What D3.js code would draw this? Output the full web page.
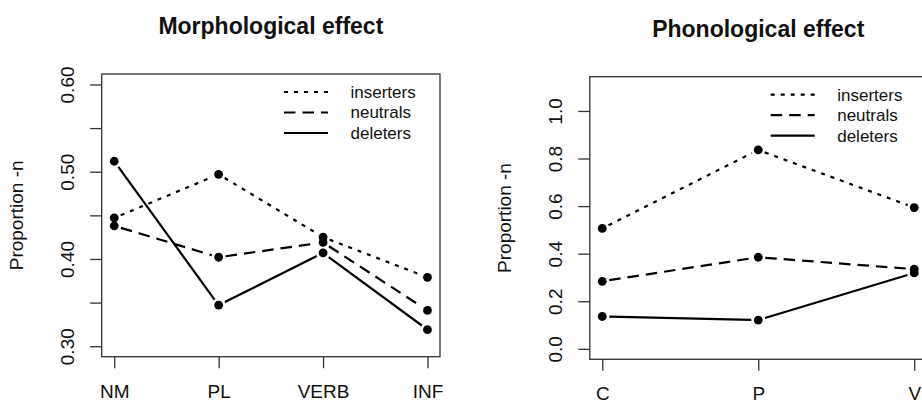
<!DOCTYPE html>
<html>
<head>
<meta charset="utf-8">
<script src="https://cdn.jsdelivr.net/npm/d3@7"></script>
<style>
body { margin: 0; background: #fff; }
svg { display: block; font-family: "Liberation Sans", Arial, Helvetica, sans-serif; }
</style>
</head>
<body>
<div id="chart"></div>
<script>
// values
var morph_categories = ["NM", "PL", "VERB", "INF"];
var morph_inserters = [0.447, 0.497, 0.425, 0.379];
var morph_neutrals = [0.438, 0.402, 0.419, 0.341];
var morph_deleters = [0.512, 0.347, 0.407, 0.319];
var morph_yticks = [0.30, 0.35, 0.40, 0.45, 0.50, 0.55, 0.60];
var morph_ylabels = ["0.30", "", "0.40", "", "0.50", "", "0.60"];

var phon_categories = ["C", "P", "V"];
var phon_inserters = [0.506, 0.836, 0.594];
var phon_neutrals = [0.284, 0.385, 0.335];
var phon_deleters = [0.136, 0.121, 0.319];
var phon_yticks = [0.0, 0.2, 0.4, 0.6, 0.8, 1.0];
var phon_ylabels = ["0.0", "0.2", "0.4", "0.6", "0.8", "1.0"];

var group_names = ["inserters", "neutrals", "deleters"];
var group_dash = ["4,6", "11.5,7", null];

var width = 922, height = 403;

var svg = d3.select("#chart")
    .append("svg")
    .attr("width", width)
    .attr("height", height);

function draw_effect_panel(opt) {
    var n = opt.categories.length;
    // R style 4% padding around the data range
    var xpad = (n - 1) * 0.04;
    var ypad = (opt.ymax - opt.ymin) * 0.04;

    var xScale = d3.scaleLinear()
        .domain([1 - xpad, n + xpad])
        .range([opt.left, opt.right]);

    var yScale = d3.scaleLinear()
        .domain([opt.ymin - ypad, opt.ymax + ypad])
        .range([opt.bottom, opt.top]);

    var g = svg.append("g");

    g.append("rect")
        .attr("x", opt.left)
        .attr("y", opt.top)
        .attr("width", opt.right - opt.left)
        .attr("height", opt.bottom - opt.top)
        .attr("fill", "none")
        .attr("stroke", "#333")
        .attr("stroke-width", 1.3);

    var xAxis = d3.axisBottom(xScale)
        .tickValues(d3.range(1, n + 1))
        .tickFormat(function(d) { return opt.categories[d - 1]; })
        .tickSize(11.5)
        .tickPadding(0);

    var yAxis = d3.axisLeft(yScale)
        .tickValues(opt.yticks)
        .tickFormat(function(d, i) { return opt.ylabels[i]; })
        .tickSize(11.5);

    var xg = g.append("g")
        .attr("transform", "translate(0," + opt.bottom + ")")
        .call(xAxis);
    xg.select(".domain").remove();
    xg.selectAll(".tick line").attr("stroke", "#333").attr("stroke-width", 1.3);
    xg.selectAll(".tick text")
        .attr("y", 41.2)
        .attr("dy", 0)
        .attr("fill", "#111")
        .style("font-size", "19px");

    var yg = g.append("g")
        .attr("transform", "translate(" + opt.left + ",0)")
        .call(yAxis);
    yg.select(".domain").remove();
    yg.selectAll(".tick line").attr("stroke", "#333").attr("stroke-width", 1.3);
    yg.selectAll(".tick text")
        .attr("x", 0)
        .attr("dy", 0)
        .attr("text-anchor", "middle")
        .attr("transform", "translate(-28.2,0) rotate(-90)")
        .attr("fill", "#111")
        .style("font-size", "19px");

    // axis title
    g.append("text")
        .attr("text-anchor", "middle")
        .attr("transform", "translate(" + (opt.left - 78.5) + "," + ((opt.top + opt.bottom) / 2) + ") rotate(-90)")
        .attr("fill", "#111")
        .style("font-size", "19px")
        .text("Proportion -n");

    g.append("text")
        .attr("x", (opt.left + opt.right) / 2)
        .attr("y", opt.top - 40)
        .attr("text-anchor", "middle")
        .attr("fill", "#111")
        .style("font-size", "23px")
        .style("font-weight", "bold")
        .text(opt.title);

    // lines with gaps around the points (type = "b")
    var gap = 7;
    opt.series.forEach(function(values, s) {
        var pts = values.map(function(v, i) {
            return [xScale(i + 1), yScale(v)];
        });
        for (var i = 0; i < pts.length - 1; i++) {
            var dx = pts[i + 1][0] - pts[i][0];
            var dy = pts[i + 1][1] - pts[i][1];
            var len = Math.sqrt(dx * dx + dy * dy);
            if (len <= 2 * gap) continue;
            var ux = dx / len, uy = dy / len;
            g.append("line")
                .attr("x1", pts[i][0] + ux * gap)
                .attr("y1", pts[i][1] + uy * gap)
                .attr("x2", pts[i + 1][0] - ux * gap)
                .attr("y2", pts[i + 1][1] - uy * gap)
                .attr("stroke", "#000")
                .attr("stroke-width", 2.2)
                .attr("stroke-dasharray", group_dash[s]);
        }
        g.selectAll(null)
            .data(values)
            .enter()
            .append("circle")
            .attr("cx", function(d, i) { return xScale(i + 1); })
            .attr("cy", function(d) { return yScale(d); })
            .attr("r", 4.4)
            .attr("fill", "#000");
    });

    // legend in the top right corner
    var legend = g.append("g")
        .attr("transform", "translate(" + opt.right + "," + opt.top + ")");
    group_names.forEach(function(name, i) {
        var ly = 18 + i * 20.5;
        legend.append("line")
            .attr("x1", -156)
            .attr("x2", -112)
            .attr("y1", ly)
            .attr("y2", ly)
            .attr("stroke", "#000")
            .attr("stroke-width", 2.2)
            .attr("stroke-dasharray", group_dash[i]);
        legend.append("text")
            .attr("x", -89.5)
            .attr("y", ly)
            .attr("dy", "0.35em")
            .attr("fill", "#111")
            .style("font-size", "17px")
            .text(name);
    });
}

draw_effect_panel({
    title: "Morphological effect",
    categories: morph_categories,
    series: [morph_inserters, morph_neutrals, morph_deleters],
    yticks: morph_yticks,
    ylabels: morph_ylabels,
    ymin: 0.30, ymax: 0.60,
    left: 101.7, right: 440, top: 74, bottom: 356.7
});

draw_effect_panel({
    title: "Phonological effect",
    categories: phon_categories,
    series: [phon_inserters, phon_neutrals, phon_deleters],
    yticks: phon_yticks,
    ylabels: phon_ylabels,
    ymin: 0.0, ymax: 1.1,
    left: 589.8, right: 926.7, top: 76.7, bottom: 359.3
});
</script>
</body>
</html>
